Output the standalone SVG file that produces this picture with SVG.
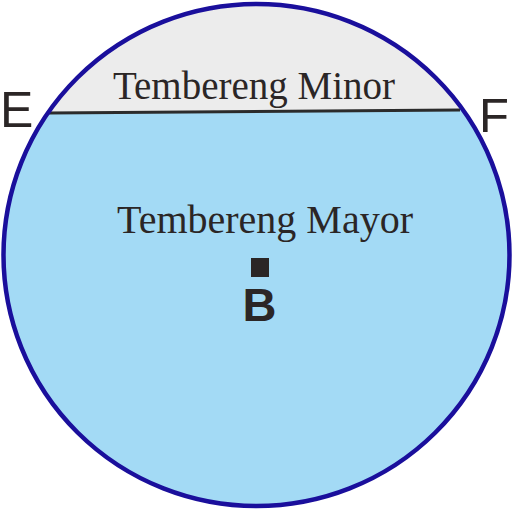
<svg xmlns="http://www.w3.org/2000/svg" width="512" height="512" viewBox="0 0 512 512">
<style>
.serif{font-family:"Liberation Serif","Times New Roman",serif;fill:#2b2626}
.sans{font-family:"Liberation Sans",Arial,sans-serif;fill:#2b2626}
</style>
<defs>
<clipPath id="c"><ellipse cx="256.5" cy="255" rx="253" ry="251"/></clipPath>
</defs>
<rect width="512" height="512" fill="#ffffff"/>
<g id="circle">
<g clip-path="url(#c)">
<rect x="0" y="0" width="512" height="512" fill="#a3daf5"/>
<polygon points="0,0 512,0 512,109.5 0,113.5" fill="#ececec"/>
</g>
<line x1="49" y1="113" x2="460" y2="110" stroke="#2b2b2b" stroke-width="3"/>
<ellipse cx="256.5" cy="255" rx="253" ry="251" fill="none" stroke="#1a0f9c" stroke-width="4.5"/>
</g>
<g id="labels">
<text class="serif" x="254" y="99" font-size="39" text-anchor="middle">Tembereng Minor</text>
<text class="serif" x="265" y="233" font-size="40" text-anchor="middle">Tembereng Mayor</text>
<text class="sans" x="0" y="127" font-size="50">E</text>
<text class="sans" x="479" y="132" font-size="49">F</text>
</g>
<g id="B">
<rect x="251" y="258" width="18" height="19" fill="#2b2626"/>
<text class="sans" x="259.5" y="321" font-size="47" font-weight="bold" text-anchor="middle">B</text>
</g>
</svg>
